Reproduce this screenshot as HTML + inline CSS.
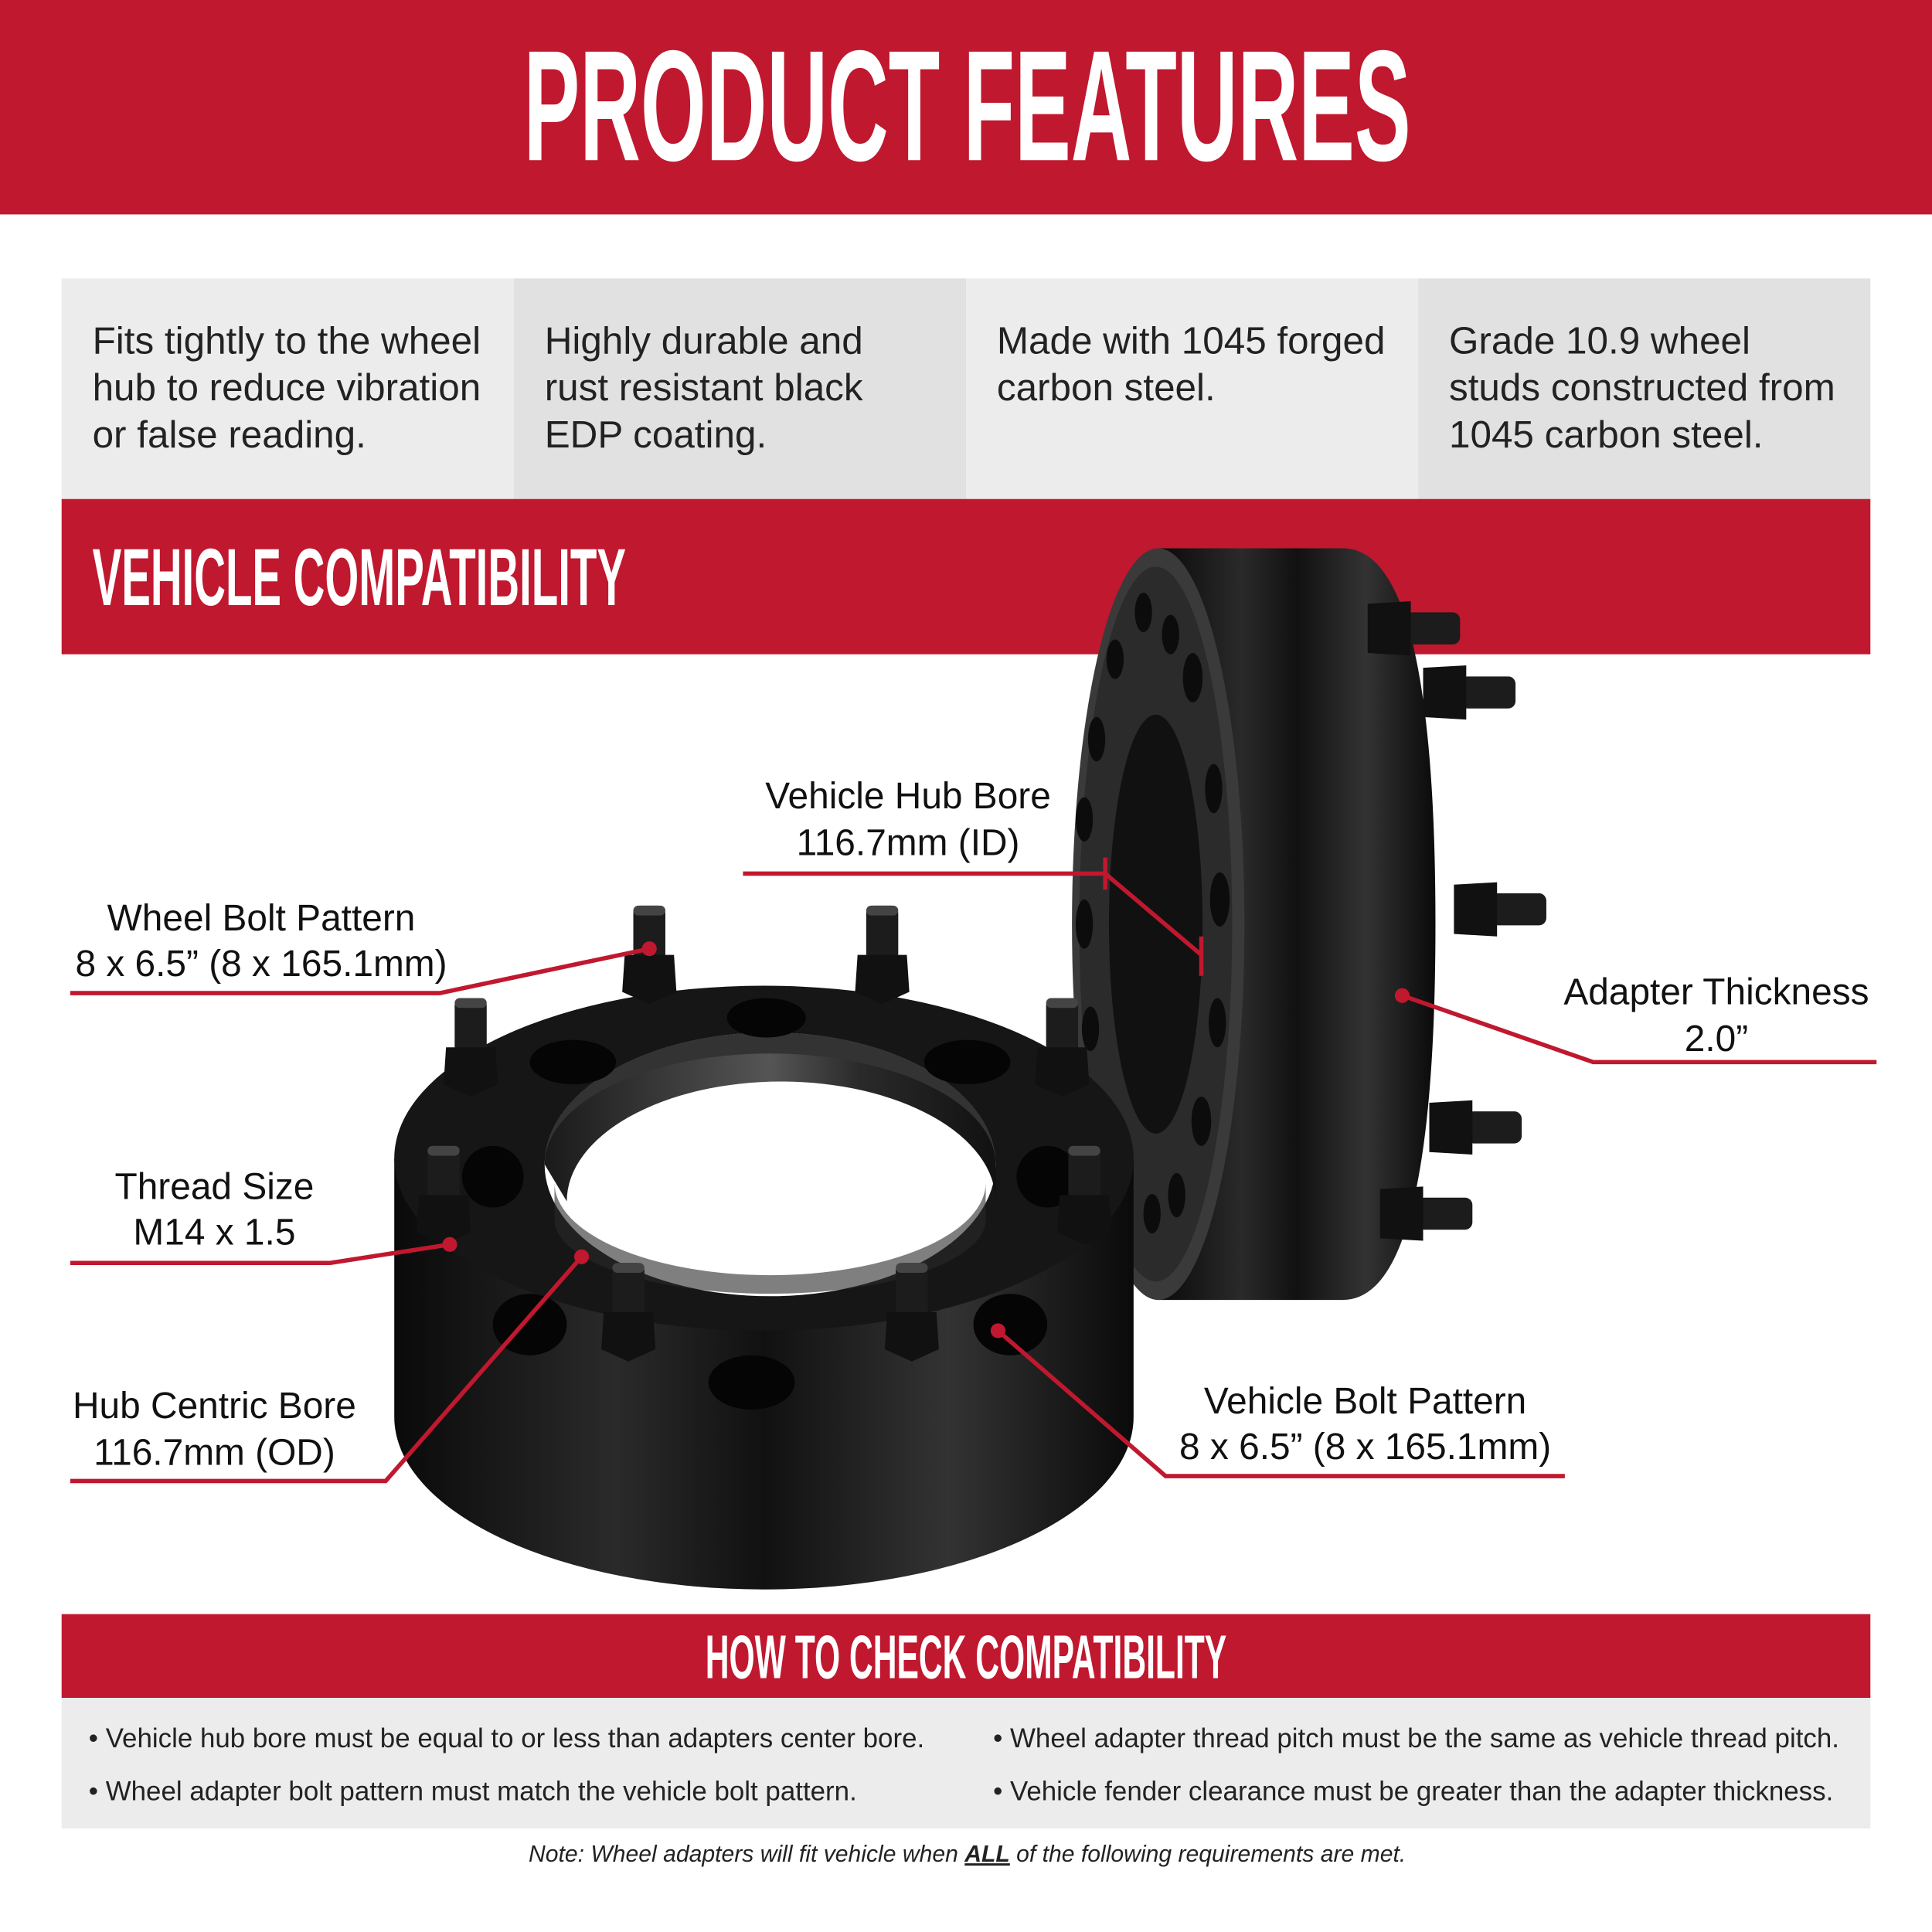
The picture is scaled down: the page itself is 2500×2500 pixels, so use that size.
<!DOCTYPE html>
<html><head><meta charset="utf-8"><style>html,body{margin:0;padding:0;background:#fff}svg{display:block}</style></head>
<body>
<svg width="2500" height="2500" viewBox="0 0 1568 1568" xmlns="http://www.w3.org/2000/svg" font-family="Liberation Sans, sans-serif">
<defs>
<linearGradient id="body" x1="0" x2="1" y1="0" y2="0">
<stop offset="0" stop-color="#0a0a0a"/><stop offset="0.3" stop-color="#2a2a2a"/><stop offset="0.5" stop-color="#111"/><stop offset="0.75" stop-color="#333"/><stop offset="1" stop-color="#0a0a0a"/></linearGradient>
<linearGradient id="bore" x1="0" x2="1" y1="0" y2="0">
<stop offset="0" stop-color="#1a1a1a"/><stop offset="0.5" stop-color="#555"/><stop offset="0.7" stop-color="#2a2a2a"/><stop offset="1" stop-color="#111"/></linearGradient>
<g id="stud">
<rect x="-13" y="0" width="26" height="45" rx="6" fill="#1c1c1c"/>
<path d="M-20 40 L20 40 L22 70 L0 80 L-22 70 Z" fill="#111"/>
<rect x="-13" y="0" width="26" height="8" rx="4" fill="#444"/>
</g>
<g id="hstud">
<rect x="0" y="-13" width="45" height="26" rx="6" fill="#1c1c1c"/>
<path d="M-30 -20 L-30 20 L5 22 L5 -22 Z" fill="#111"/>
</g>
</defs>
<rect width="1568" height="1568" fill="#fff"/>
<rect x="0" y="0" width="1568" height="174" fill="#c0182f"/>
<text x="785" y="130" text-anchor="middle" font-family="Liberation Sans Narrow, Liberation Sans, sans-serif" font-weight="bold" font-size="128" fill="#fff" textLength="720" lengthAdjust="spacingAndGlyphs">PRODUCT FEATURES</text>

<rect x="50" y="226" width="367" height="179" fill="#ececec"/>
<rect x="417" y="226" width="367" height="179" fill="#e1e1e1"/>
<rect x="784" y="226" width="367" height="179" fill="#ececec"/>
<rect x="1151" y="226" width="367" height="179" fill="#e1e1e1"/>
<g font-size="31" fill="#222">
<text x="75" y="287">Fits tightly to the wheel</text><text x="75" y="325">hub to reduce vibration</text><text x="75" y="363">or false reading.</text>
<text x="442" y="287">Highly durable and</text><text x="442" y="325">rust resistant black</text><text x="442" y="363">EDP coating.</text>
<text x="809" y="287">Made with 1045 forged</text><text x="809" y="325">carbon steel.</text>
<text x="1176" y="287">Grade 10.9 wheel</text><text x="1176" y="325">studs constructed from</text><text x="1176" y="363">1045 carbon steel.</text>
</g>
<rect x="50" y="405" width="1468" height="126" fill="#c0182f"/>
<text x="75" y="491" font-family="Liberation Sans Narrow, Liberation Sans, sans-serif" font-weight="bold" font-size="66" fill="#fff" textLength="433" lengthAdjust="spacingAndGlyphs">VEHICLE COMPATIBILITY</text>

<!-- right wheel -->
<g>
<path d="M940 445 L1090 445 Q1165 445 1165 750 Q1165 1055 1090 1055 L940 1055 Z" fill="url(#body)"/>
<use href="#hstud" x="1140" y="510"/><use href="#hstud" x="1185" y="562"/><use href="#hstud" x="1210" y="738"/><use href="#hstud" x="1190" y="915"/><use href="#hstud" x="1150" y="985"/>
<ellipse cx="940" cy="750" rx="70" ry="305" fill="#3a3a3a"/>
<ellipse cx="938" cy="750" rx="62" ry="290" fill="#2b2b2b"/>
<ellipse cx="938" cy="750" rx="38" ry="170" fill="#111"/>
<g fill="#0c0c0c">
<ellipse cx="928" cy="497" rx="7" ry="16"/><ellipse cx="950" cy="515" rx="7" ry="16"/><ellipse cx="968" cy="550" rx="8" ry="20"/><ellipse cx="905" cy="535" rx="7" ry="16"/><ellipse cx="890" cy="600" rx="7" ry="18"/>
<ellipse cx="985" cy="640" rx="7" ry="20"/><ellipse cx="880" cy="665" rx="7" ry="18"/><ellipse cx="990" cy="730" rx="8" ry="22"/><ellipse cx="880" cy="750" rx="7" ry="20"/>
<ellipse cx="988" cy="830" rx="7" ry="20"/><ellipse cx="885" cy="835" rx="7" ry="18"/><ellipse cx="975" cy="910" rx="8" ry="20"/><ellipse cx="895" cy="905" rx="7" ry="16"/><ellipse cx="955" cy="970" rx="7" ry="18"/><ellipse cx="935" cy="985" rx="7" ry="16"/>
</g>
</g>

<!-- left wheel -->
<g>
<path d="M320 940 L320 1150 A300 140 0 0 0 920 1150 L920 940 Z" fill="url(#body)"/>
<ellipse cx="620" cy="940" rx="300" ry="140" fill="#161616"/>
<ellipse cx="625" cy="945" rx="183" ry="107" fill="#fff"/>
<path d="M442 945 A183 107 0 0 1 808 945 L808 975 A170 95 0 0 0 460 975 Z" fill="url(#bore)"/>
<path d="M442 945 A183 107 0 0 1 808 945 A183 90 0 0 0 442 945 Z" fill="#333"/>
<path d="M450 990 A175 60 0 0 0 800 990 L800 960 A175 75 0 0 1 450 960 Z" fill="#2a2a2a" opacity="0.6"/>
<g fill="#050505">
<ellipse cx="622" cy="826" rx="32" ry="16"/><ellipse cx="465" cy="862" rx="35" ry="18"/><ellipse cx="785" cy="862" rx="35" ry="18"/>
<ellipse cx="400" cy="955" rx="25" ry="25"/><ellipse cx="850" cy="955" rx="25" ry="25"/>
<ellipse cx="430" cy="1075" rx="30" ry="25"/><ellipse cx="820" cy="1075" rx="30" ry="25"/><ellipse cx="610" cy="1122" rx="35" ry="22"/>
</g>
<use href="#stud" x="527" y="735"/><use href="#stud" x="716" y="735"/><use href="#stud" x="382" y="810"/><use href="#stud" x="862" y="810"/>
<use href="#stud" x="360" y="930"/><use href="#stud" x="880" y="930"/><use href="#stud" x="510" y="1025"/><use href="#stud" x="740" y="1025"/>
</g>

<!-- connectors -->
<g stroke="#c0182f" stroke-width="3.5" fill="none">
<polyline points="603,709 897,709 975,775"/>
<line x1="897" y1="696" x2="897" y2="722"/><line x1="975" y1="760" x2="975" y2="792"/>
<polyline points="57,806 357,806 527,770"/>
<polyline points="1138,808 1293,862 1523,862"/>
<polyline points="57,1025 268,1025 365,1010"/>
<polyline points="57,1202 313,1202 472,1020"/>
<polyline points="810,1080 946,1198 1270,1198"/>
</g>
<g fill="#c0182f"><circle cx="527" cy="770" r="6"/><circle cx="1138" cy="808" r="6"/><circle cx="365" cy="1010" r="6"/><circle cx="472" cy="1020" r="6"/><circle cx="810" cy="1080" r="6"/></g>
<g font-size="30" fill="#111" text-anchor="middle">
<text x="737" y="656">Vehicle Hub Bore</text><text x="737" y="694">116.7mm (ID)</text>
<text x="212" y="755">Wheel Bolt Pattern</text><text x="212" y="792">8 x 6.5” (8 x 165.1mm)</text>
<text x="1393" y="815">Adapter Thickness</text><text x="1393" y="853">2.0”</text>
<text x="174" y="973">Thread Size</text><text x="174" y="1010">M14 x 1.5</text>
<text x="174" y="1151">Hub Centric Bore</text><text x="174" y="1189">116.7mm (OD)</text>
<text x="1108" y="1147">Vehicle Bolt Pattern</text><text x="1108" y="1184">8 x 6.5” (8 x 165.1mm)</text>
</g>

<rect x="50" y="1310" width="1468" height="68" fill="#c0182f"/>
<text x="784" y="1362" text-anchor="middle" font-family="Liberation Sans Narrow, Liberation Sans, sans-serif" font-weight="bold" font-size="50" fill="#fff" textLength="423" lengthAdjust="spacingAndGlyphs">HOW TO CHECK COMPATIBILITY</text>
<rect x="50" y="1378" width="1468" height="106" fill="#ececec"/>
<g font-size="21.9" fill="#222">
<text x="72" y="1418">• Vehicle hub bore must be equal to or less than adapters center bore.</text>
<text x="72" y="1461">• Wheel adapter bolt pattern must match the vehicle bolt pattern.</text>
<text x="806" y="1418">• Wheel adapter thread pitch must be the same as vehicle thread pitch.</text>
<text x="806" y="1461">• Vehicle fender clearance must be greater than the adapter thickness.</text>
</g>
<text x="785" y="1511" text-anchor="middle" font-size="18.9" font-style="italic" fill="#222">Note: Wheel adapters will fit vehicle when <tspan font-weight="bold" text-decoration="underline">ALL</tspan> of the following requirements are met.</text>
</svg>
</body></html>
